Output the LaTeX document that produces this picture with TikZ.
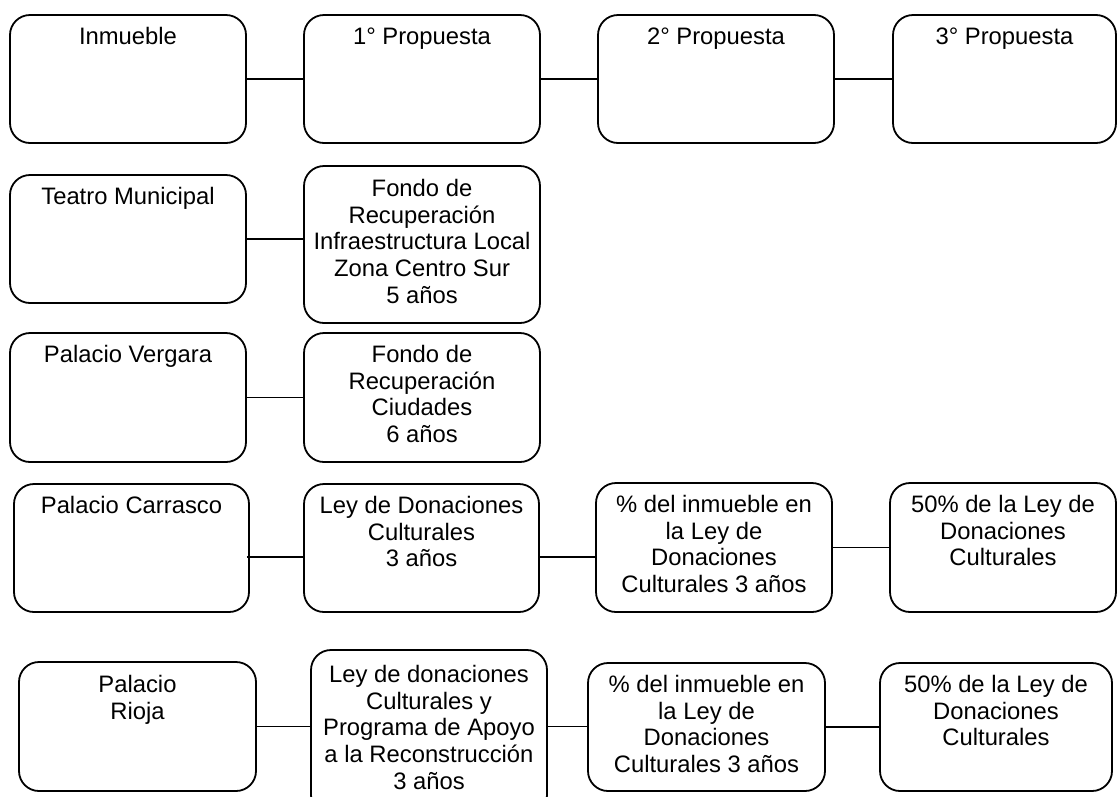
\documentclass[tikz,border=0pt]{standalone}
\usepackage{fontspec}
\setmainfont{Liberation Sans}
\usetikzlibrary{fit,calc}
\tikzset{
  boxst/.style={draw, line width=1.8pt, rounded corners=20pt, inner sep=0pt},
  txtst/.style={align=center, inner sep=0pt, anchor=north, font=\fontsize{23.8}{26.7}\selectfont},
  link/.style={line width=1.8pt}
}
\newcommand{\mkbox}[7]{%
  \node[boxst, fit={(#2,#3) (#4,#5)}] (#1) {};
  \node[txtst] (#1-t) at ([yshift=-#6pt]#1.north) {\rule{0pt}{20pt}#7};
}
\begin{document}
\begin{tikzpicture}[x=1pt, y=-1pt]
\useasboundingbox (0,0) rectangle (1117,796);
\clip (0,0) rectangle (1117,796);
% row 1
\mkbox{inm}{10}{15}{246}{143}{10}{Inmueble}
\mkbox{p1}{304}{15}{540}{143}{10}{1° Propuesta}
\mkbox{p2}{598}{15}{834}{143}{10}{2° Propuesta}
\mkbox{p3}{893}{15}{1116}{143}{10}{3° Propuesta}
% row 2
\mkbox{teatro}{10}{175}{246}{303}{10}{Teatro Municipal}
\mkbox{fl}{304}{166}{540}{323}{11}{Fondo de\\Recuperación\\Infraestructura Local\\Zona Centro Sur\\5 años}
% row 3
\mkbox{verg}{10}{333}{246}{462}{10}{Palacio Vergara}
\mkbox{fc}{304}{333}{540}{462}{10}{Fondo de\\Recuperación\\Ciudades\\6 años}
% row 4
\mkbox{carr}{14}{484}{249}{612}{10}{Palacio Carrasco}
\mkbox{ley4}{304}{484}{539}{612}{10}{Ley de Donaciones\\Culturales\\3 años}
\mkbox{pc4}{596}{483}{832}{612}{10}{\% del inmueble en\\la Ley de\\Donaciones\\Culturales 3 años}
\mkbox{f4}{890}{483}{1116}{612}{10}{50\% de la Ley de\\Donaciones\\Culturales}
% row 5
\mkbox{rioja}{19}{662}{256}{791}{11}{Palacio\\Rioja}
\mkbox{ley5}{311}{650}{547}{815}{13}{Ley de donaciones\\Culturales y\\Programa de Apoyo\\a la Reconstrucción\\3 años}
\mkbox{pc5}{588}{663}{825}{791}{10}{\% del inmueble en\\la Ley de\\Donaciones\\Culturales 3 años}
\mkbox{f5}{880}{663}{1112}{791}{10}{50\% de la Ley de\\Donaciones\\Culturales}
% connectors
\draw[link] (inm.east) -- (p1.west);
\draw[link] (p1.east) -- (p2.west);
\draw[link] (p2.east) -- (p3.west);
\draw[link] (teatro.east) -- (teatro.east -| fl.west);
\draw[link] (verg.east) -- (verg.east -| fc.west);
\coordinate (c4) at ([yshift=-9pt,xshift=-3pt]carr.east);
\draw[link] (c4) -- (c4 -| ley4.west);
\draw[link] (c4 -| ley4.east) -- (c4 -| pc4.west);
\draw[link] (pc4.east) -- (pc4.east -| f4.west);
\draw[link] (rioja.east) -- (rioja.east -| ley5.west);
\draw[link] (rioja.east -| ley5.east) -- (rioja.east -| pc5.west);
\draw[link] (pc5.east) -- (pc5.east -| f5.west);
\end{tikzpicture}
\end{document}
